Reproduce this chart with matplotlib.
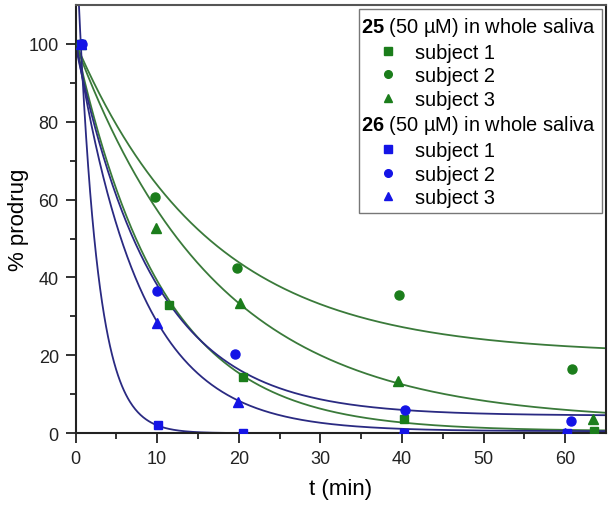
import numpy as np
import matplotlib
matplotlib.use("Agg")
import matplotlib.pyplot as plt

plt.rcParams['font.family'] = ['Liberation Sans', 'DejaVu Sans']
plt.rcParams['mathtext.fontset'] = 'custom'
plt.rcParams['mathtext.bf'] = 'Liberation Sans:bold'
plt.rcParams['mathtext.rm'] = 'Liberation Sans'

# ---- data ----
# compound 25 (green)
t25_s1 = [0.7, 11.5, 20.5, 40.3, 63.5]
y25_s1 = [100, 33.0, 14.5, 3.6, 0.6]
t25_s2 = [0.7, 9.8, 19.8, 39.7, 60.9]
y25_s2 = [100, 60.8, 42.5, 35.6, 16.4]
t25_s3 = [0.7, 9.9, 20.2, 39.5, 63.4]
y25_s3 = [100, 52.6, 33.5, 13.4, 3.6]
# compound 26 (blue)
t26_s1 = [0.7, 10.1, 20.5, 40.3, 60.2]
y26_s1 = [100, 2.0, 0.0, 0.0, 0.0]
t26_s2 = [0.76, 10.0, 19.5, 40.4, 60.7]
y26_s2 = [100, 36.5, 20.3, 6.0, 3.2]
t26_s3 = [0.7, 10.0, 19.9, 40.0, 60.0]
y26_s3 = [100, 28.3, 8.0, 0.0, 0.0]

# fitted first-order decay curves y = A*exp(-k t) + c  (A, k, c)
fit25_s1 = (100.0, 0.095, 0.5)
fit25_s2 = (80.0, 0.061, 20.3)
fit25_s3 = (97.0, 0.058, 3.0)
fit26_s1 = (131.0, 0.418, 0.0)
fit26_s2 = (95.0, 0.104, 4.5)
fit26_s3 = (101.0, 0.128, 0.5)

legend_labels = ["subject 1", "subject 2", "subject 3"]
header25 = r"$\mathbf{25}$ (50 µM) in whole saliva"
header26 = r"$\mathbf{26}$ (50 µM) in whole saliva"

GREEN_M = '#1b7d1b'
GREEN_L = '#3a7a3a'
BLUE_M = '#1414e6'
BLUE_L = '#2a2a82'

fig = plt.figure(figsize=(6.09, 5.06), dpi=100)
ax = fig.add_axes([0.124, 0.142, 0.871, 0.846])

tt = np.linspace(0, 65, 800)
def curve(p):
    A, k, c = p
    return A * np.exp(-k * tt) + c

for p in [fit25_s1, fit25_s2, fit25_s3]:
    ax.plot(tt, curve(p), color=GREEN_L, lw=1.3, zorder=2)
for p in [fit26_s1, fit26_s2, fit26_s3]:
    ax.plot(tt, curve(p), color=BLUE_L, lw=1.3, zorder=2)

ms = 6.5
ax.plot(t25_s1, y25_s1, 's', color=GREEN_M, ms=ms-0.5, zorder=3)
ax.plot(t25_s2, y25_s2, 'o', color=GREEN_M, ms=ms, zorder=3)
ax.plot(t25_s3, y25_s3, '^', color=GREEN_M, ms=ms+0.5, zorder=3)
ax.plot(t26_s1, y26_s1, 's', color=BLUE_M, ms=ms-0.5, zorder=3)
ax.plot(t26_s3, y26_s3, '^', color=BLUE_M, ms=ms+0.5, zorder=3)
ax.plot(t26_s2, y26_s2, 'o', color=BLUE_M, ms=ms, zorder=4)

ax.set_xlim(0, 65)
ax.set_ylim(0, 110)
ax.set_xticks([0, 10, 20, 30, 40, 50, 60])
ax.set_xticks(np.arange(5, 65, 10), minor=True)
ax.set_yticks([0, 20, 40, 60, 80, 100])
ax.set_yticks([10, 30, 50, 70, 90], minor=True)
ax.tick_params(which='major', direction='out', length=7, width=1.3,
               labelsize=13, colors='#222222', pad=5)
ax.tick_params(which='minor', direction='out', length=4, width=1.3, colors='#222222')
ax.tick_params(top=False, right=False)
for s in ax.spines.values():
    s.set_linewidth(1.5)
    s.set_color('#222222')
ax.spines['top'].set_color('#555555')

ax.set_xlabel("t (min)", fontsize=16, labelpad=8)
ax.set_ylabel("% prodrug", fontsize=16, labelpad=0)

# legend with section headers
blank = plt.Line2D([], [], linestyle='none', marker='none')
mk = dict(linestyle='none', ms=5.5)
handles = [blank,
           plt.Line2D([], [], marker='s', color=GREEN_M, **mk),
           plt.Line2D([], [], marker='o', color=GREEN_M, **mk),
           plt.Line2D([], [], marker='^', color=GREEN_M, **mk),
           blank,
           plt.Line2D([], [], marker='s', color=BLUE_M, **mk),
           plt.Line2D([], [], marker='o', color=BLUE_M, **mk),
           plt.Line2D([], [], marker='^', color=BLUE_M, **mk)]
labels = [header25] + legend_labels + [header26] + legend_labels
leg = ax.legend(handles, labels, loc='upper right', fontsize=14.4,
                frameon=True, fancybox=False, edgecolor='#777777',
                framealpha=1, borderpad=0.3, labelspacing=0.23,
                handlelength=2.3, handletextpad=0.2, borderaxespad=0.2)
leg.get_frame().set_linewidth(1.0)

# left-align header rows (pull them close to the frame edge)
col = leg._legend_handle_box.get_children()[0]
for i, row in enumerate(col.get_children()):
    if i in (0, 4):
        row.get_children()[0].width = 0
        row.sep = -3.0

fig.savefig("out.png", dpi=100)
